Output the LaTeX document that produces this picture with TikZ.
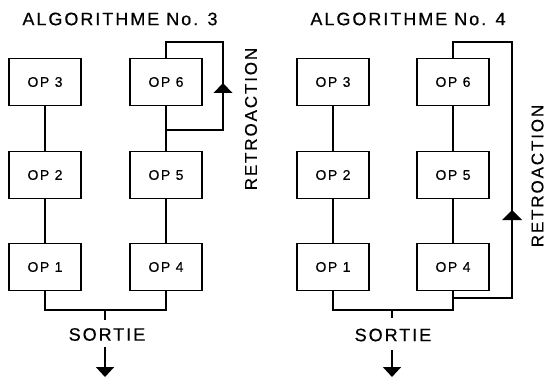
\documentclass[tikz,border=0pt]{standalone}
\usepackage{fontspec}
\setmainfont{Liberation Sans}
\newfontfamily\hv[LetterSpace=11,FakeBold=0.5]{Liberation Sans}
\usetikzlibrary{arrows.meta}
\begin{document}
\begin{tikzpicture}[x=1pt,y=-1pt,
  opbox/.style={draw,line width=1.4pt,minimum width=72pt,minimum height=47pt,inner sep=0pt,font=\hv\fontsize{14}{14}\selectfont},
  title/.style={font=\hv\fontsize{18}{18}\selectfont,inner sep=0pt},
  lbl/.style={font=\hv\fontsize{18}{18}\selectfont,inner sep=0pt},
  retro/.style={font=\hv\fontsize{17}{17}\selectfont,inner sep=0pt,rotate=90},
  wire/.style={line width=1.8pt},
  outarrow/.style={line width=1.8pt,-{Triangle[width=18pt,length=10pt]}}]
\useasboundingbox (0,0) rectangle (546,377);
% ---------- left: algorithme 3
\node[title] (t3) at (120,19) {ALGORITHME No. 3};
\node[opbox] (a3) at (45,82) {OP 3};
\node[opbox] (a2) at (45,175) {OP 2};
\node[opbox] (a1) at (45,267) {OP 1};
\node[opbox] (a6) at (166,82) {OP 6};
\node[opbox] (a5) at (166,175) {OP 5};
\node[opbox] (a4) at (166,267) {OP 4};
\draw[wire] (a3) -- (a2) (a2) -- (a1);
\draw[wire] (a6) -- (a5) (a5) -- (a4);
\coordinate (af1) at (166,42);
\coordinate (af2) at (223,42);
\coordinate (af3) at (223,130);
\coordinate (af4) at (166,130);
\draw[wire] (a6.north) -- (af1) -- (af2) -- (af3) -- (af4);
\fill (213.5,93) -- (223,83) -- (232.5,93) -- cycle;
\node[retro] (r3) at (251,119) {RETROACTION};
\coordinate (ab1) at (45,310);
\coordinate (ab2) at (166,310);
\coordinate (ac1) at (105,310);
\coordinate (ac2) at (105,320);
\draw[wire] (a1.south) -- (ab1) -- (ab2) -- (a4.south);
\draw[wire] (ac1) -- (ac2);
\node[lbl] (s3) at (107,334.5) {SORTIE};
\coordinate (aa1) at (105,347);
\coordinate (aa2) at (105,377);
\draw[outarrow] (aa1) -- (aa2);
% ---------- right: algorithme 4
\node[title] (t4) at (408,19) {ALGORITHME No. 4};
\node[opbox] (b3) at (333,82) {OP 3};
\node[opbox] (b2) at (333,175) {OP 2};
\node[opbox] (b1) at (333,267) {OP 1};
\node[opbox] (b6) at (453,82) {OP 6};
\node[opbox] (b5) at (453,175) {OP 5};
\node[opbox] (b4) at (453,267) {OP 4};
\draw[wire] (b3) -- (b2) (b2) -- (b1);
\draw[wire] (b6) -- (b5) (b5) -- (b4);
\coordinate (bf1) at (453,42);
\coordinate (bf2) at (512,42);
\coordinate (bf3) at (512,298);
\coordinate (bf4) at (453,298);
\draw[wire] (b6.north) -- (bf1) -- (bf2) -- (bf3) -- (bf4);
\fill (502,220) -- (512,210) -- (522,220) -- cycle;
\node[retro] (r4) at (537.5,176) {RETROACTION};
\coordinate (bb1) at (333,310);
\coordinate (bb2) at (453,310);
\coordinate (bc1) at (392,310);
\coordinate (bc2) at (392,318);
\draw[wire] (b1.south) -- (bb1) -- (bb2) -- (b4.south);
\draw[wire] (bc1) -- (bc2);
\node[lbl] (s4) at (393,335) {SORTIE};
\coordinate (ba1) at (392,350);
\coordinate (ba2) at (392,377);
\draw[outarrow] (ba1) -- (ba2);
\end{tikzpicture}
\end{document}
